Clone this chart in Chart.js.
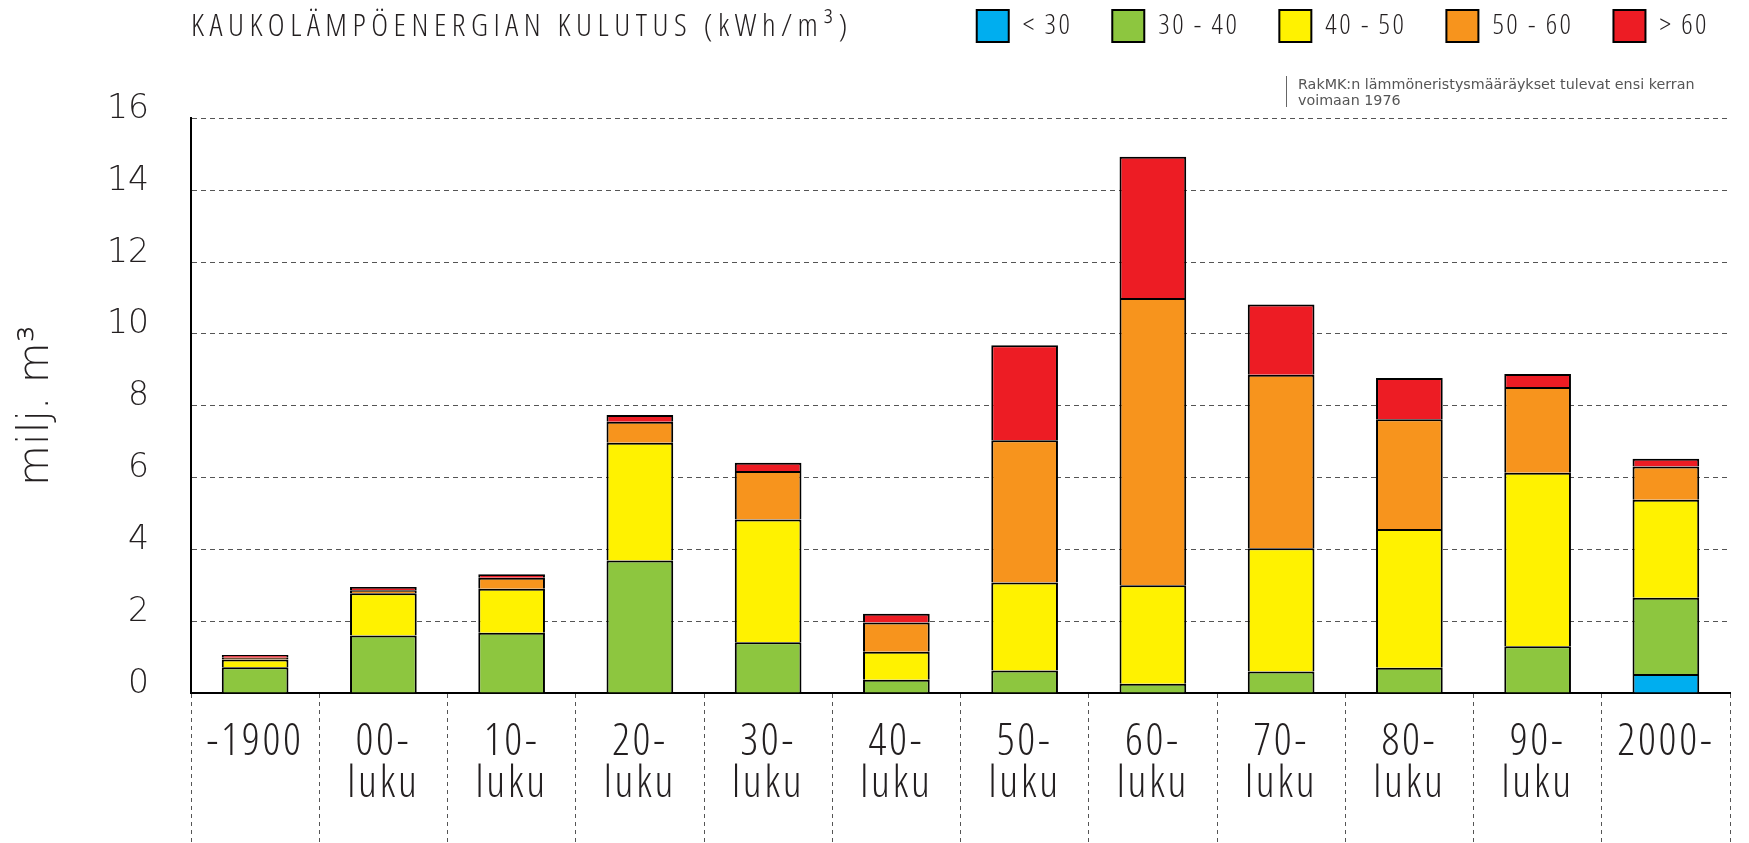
<!DOCTYPE html>
<html>
<head>
<meta charset="utf-8">
<script src="https://cdn.jsdelivr.net/npm/chart.js@4.4.0/dist/chart.umd.min.js"></script>
<style>
html, body { margin: 0; padding: 0; background: #fff; }
#wrap { position: relative; width: 1749px; height: 843px; }
#note { position: absolute; left: 1286px; top: 76px; height: 31px; border-left: 1.5px solid #666;
        padding-left: 11px; font: 14.3px 'DejaVu Sans'; line-height: 16px; color: #555; white-space: nowrap; }
</style>
</head>
<body>
<div id="wrap">
  <canvas id="myChart" width="1749" height="843" style="width:1749px;height:843px"></canvas>
  <div id="note">RakMK:n lämmöneristysmääräykset tulevat ensi kerran<br>voimaan 1976</div>
</div>
<script>
var decades = [['-1900'], ['00-', 'luku'], ['10-', 'luku'], ['20-', 'luku'], ['30-', 'luku'], ['40-', 'luku'],
               ['50-', 'luku'], ['60-', 'luku'], ['70-', 'luku'], ['80-', 'luku'], ['90-', 'luku'], ['2000-']];

// milj. m3 per kulutusluokka (kWh/m3)
var under30 = [0, 0, 0, 0, 0, 0, 0, 0, 0, 0, 0, 0.53];
var from30to40 = [0.72, 1.60, 1.68, 3.69, 1.41, 0.37, 0.63, 0.26, 0.60, 0.70, 1.30, 2.12];
var from40to50 = [0.21, 1.18, 1.22, 3.28, 3.42, 0.78, 2.45, 2.74, 3.43, 3.87, 4.83, 2.73];
var from50to60 = [0.05, 0.08, 0.31, 0.58, 1.35, 0.81, 3.96, 8.00, 4.83, 3.05, 2.39, 0.93];
var over60 = [0.08, 0.09, 0.10, 0.19, 0.23, 0.25, 2.64, 3.93, 1.96, 1.15, 0.36, 0.21];

var classLabels = ['< 30', '30 - 40', '40 - 50', '50 - 60', '> 60'];
var classColors = ['#00aeef', '#8dc63f', '#fff200', '#f7941d', '#ed1c24'];
var yTicks = [0, 2, 4, 6, 8, 10, 12, 14, 16];

var thinFont = "'Open Sans', 'DejaVu Sans', sans-serif";
var thinWeight = 'semi-condensed 300';   // weight string also carries the font-stretch keyword
var tickFont = "'DejaVu Sans', sans-serif";

var myChart;

// wrap a method so its text is letter-spaced like the original
function spaced(obj, method, spacing) {
    if (!obj) return;
    var orig = obj[method];
    obj[method] = function () {
        var c = this.ctx;
        c.save();
        c.letterSpacing = spacing;
        var r = orig.apply(this, arguments);
        c.restore();
        return r;
    };
}

var letterSpacing = {
    id: 'letterSpacing',
    beforeLayout: function (chart) {
        if (chart.$spaced) return;
        chart.$spaced = true;
        spaced(chart.titleBlock, 'draw', '5.5px');
        spaced(chart.legend, 'fit', '2.5px');
        spaced(chart.legend, 'draw', '2.5px');
        spaced(chart.scales.x, 'drawLabels', '2.8px');
    }
};

function createChart() {
    var ctx = document.getElementById('myChart').getContext('2d');
    var series = [under30, from30to40, from40to50, from50to60, over60];
    var datasets = series.map(function (values, i) {
        return {
            label: classLabels[i],
            data: values,
            backgroundColor: classColors[i],
            borderColor: '#000',
            borderWidth: 2,
            categoryPercentage: 1,
            barPercentage: 0.52
        };
    });

    myChart = new Chart(ctx, {
        type: 'bar',
        data: { labels: decades, datasets: datasets },
        plugins: [letterSpacing],
        options: {
            responsive: false,
            animation: false,
            layout: { padding: { top: -30, right: 0, bottom: 0, left: 0 } },
            plugins: {
                tooltip: { enabled: false },
                legend: {
                    position: 'top',
                    align: 'end',
                    labels: {
                        boxWidth: 32,
                        boxHeight: 32,
                        padding: 40,
                        color: '#231f20',
                        font: { family: thinFont, weight: thinWeight, size: 28 }
                    }
                },
                title: {
                    display: true,
                    text: 'KAUKOLÄMPÖENERGIAN KULUTUS (kWh/m³)',
                    align: 'start',
                    fullSize: false,
                    weight: 500,
                    color: '#231f20',
                    font: { family: thinFont, weight: thinWeight, size: 32, lineHeight: 1.2 },
                    padding: { top: -44, bottom: 72 }
                }
            },
            scales: {
                x: {
                    stacked: true,
                    afterFit: function (scale) { scale.height = 150; },
                    grid: {
                        display: true,
                        drawOnChartArea: false,
                        drawTicks: true,
                        tickLength: 150,
                        tickColor: '#555',
                        tickWidth: 1,
                        tickBorderDash: [4, 4]
                    },
                    border: { display: true, color: '#000', width: 2 },
                    ticks: {
                        autoSkip: false,
                        maxRotation: 0,
                        minRotation: 0,
                        padding: -121,
                        color: '#231f20',
                        font: { family: thinFont, weight: thinWeight, size: 44, lineHeight: 0.95 }
                    }
                },
                y: {
                    stacked: true,
                    min: 0,
                    max: 16,
                    afterFit: function (scale) { scale.width = 191; },
                    afterBuildTicks: function (scale) {
                        scale.ticks = yTicks.map(function (v) { return { value: v }; });
                    },
                    grid: {
                        color: '#555',
                        lineWidth: 1,
                        drawTicks: false
                    },
                    border: { display: true, color: '#000', width: 2, dash: [5, 4] },
                    ticks: {
                        padding: 42,
                        labelOffset: -9,
                        color: '#231f20',
                        font: { family: tickFont, weight: 200, size: 33 }
                    },
                    title: {
                        display: true,
                        text: 'milj. m³',
                        color: '#231f20',
                        padding: { top: 12, bottom: 0 },
                        font: { family: tickFont, weight: 200, size: 42, lineHeight: 1.2 }
                    }
                },
                // empty right-hand margin so the plot ends where the reference does
                yRight: {
                    position: 'right',
                    display: true,
                    afterFit: function (scale) { scale.width = 19; },
                    grid: { display: false },
                    border: { display: false },
                    ticks: { display: false }
                }
            }
        }
    });
}

document.addEventListener('DOMContentLoaded', function () {
    createChart();
});
</script>
</body>
</html>
